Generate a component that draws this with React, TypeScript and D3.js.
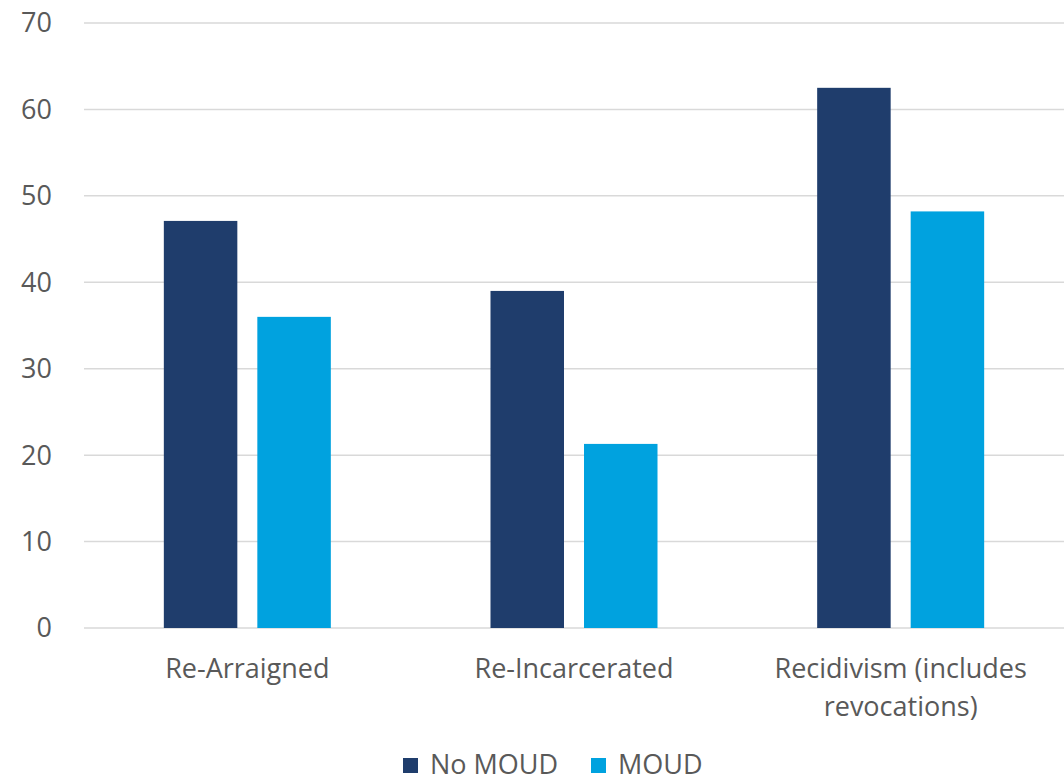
import React from 'react';
import * as d3 from 'd3';

const categories = ['Re-Arraigned', 'Re-Incarcerated', 'Recidivism (includes revocations)'];
const categoryLines = [['Re-Arraigned'], ['Re-Incarcerated'], ['Recidivism (includes', 'revocations)']];
const seriesNames = ['No MOUD', 'MOUD'];
const noMoud = [47.1, 39.0, 62.5];
const moud = [36.0, 21.3, 48.2];
const yTicks = [0, 10, 20, 30, 40, 50, 60, 70];

const colors = ['#1F3D6C', '#00A2DF'];
const textColor = '#595959';
const font = '"Open Sans", sans-serif';

const width = 1064;
const height = 781;
const plot = { left: 84, right: 1064, top: 23, bottom: 628 };

const App: React.FC = () => {
  const x = d3.scaleBand<string>().domain(categories).range([plot.left, plot.right]).paddingInner(0).paddingOuter(0);
  const y = d3.scaleLinear().domain([0, 70]).range([plot.bottom, plot.top]);
  const series = [noMoud, moud];
  const barW = 73.5;
  const gap = 20;

  return (
    <svg width={width} height={height} style={{ position: 'absolute', left: 0, top: 0 }} fontFamily={font}>
      {yTicks.map(t => (
        <g key={t}>
          <line x1={plot.left} x2={plot.right} y1={y(t)} y2={y(t)} stroke="#D9D9D9" strokeWidth={1.5} />
          <text x={52} y={y(t)} dy="0.35em" textAnchor="end" fontSize={27} fill={textColor}>{t}</text>
        </g>
      ))}
      {categories.map((c, i) => {
        const cx = (x(c) as number) + x.bandwidth() / 2;
        return (
          <g key={c}>
            {series.map((s, j) => {
              const bx = j === 0 ? cx - gap / 2 - barW : cx + gap / 2;
              return (
                <rect key={j} x={bx} y={y(s[i])} width={barW} height={y(0) - y(s[i])} fill={colors[j]} />
              );
            })}
            {categoryLines[i].map((ln, k) => (
              <text key={k} x={cx} y={669 + k * 38} dy="0.35em" textAnchor="middle" fontSize={27} fill={textColor}>{ln}</text>
            ))}
          </g>
        );
      })}
      {seriesNames.map((n, j) => {
        const lx = j === 0 ? 403 : 591;
        return (
          <g key={n}>
            <rect x={lx} y={758} width={15} height={15} fill={colors[j]} />
            <text x={lx + 27} y={765} dy="0.35em" fontSize={27} fill={textColor}>{n}</text>
          </g>
        );
      })}
    </svg>
  );
};

export default App;
